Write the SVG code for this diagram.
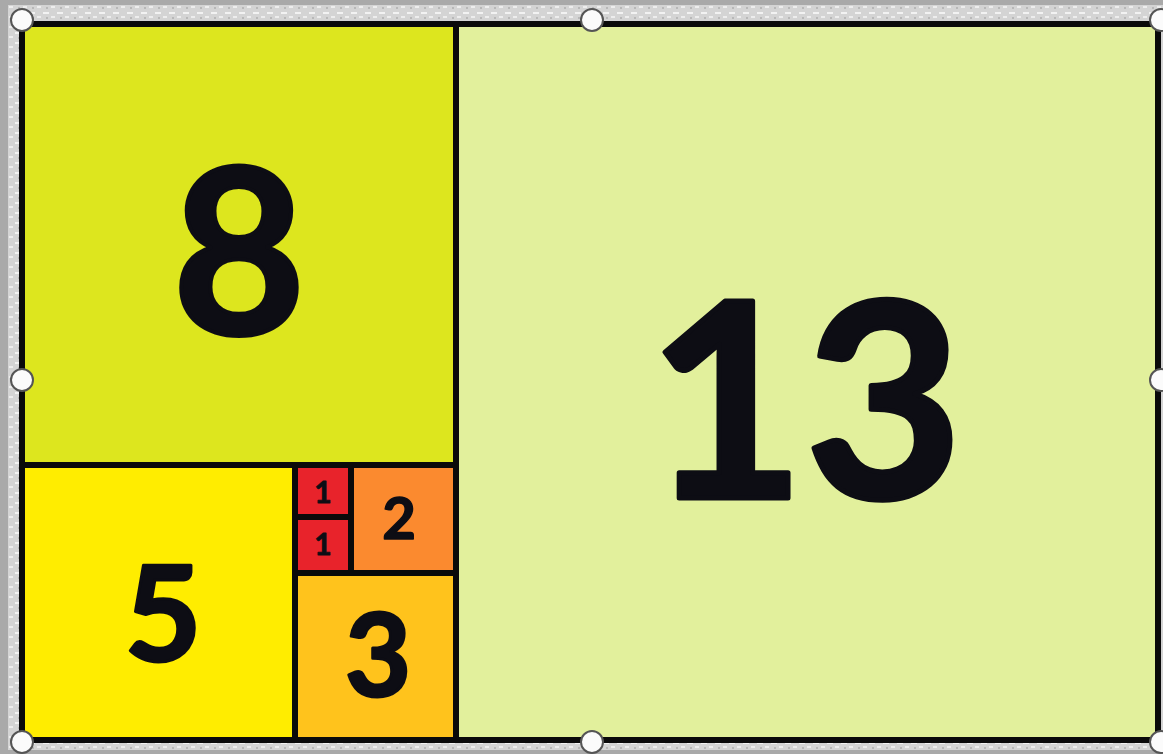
<svg xmlns="http://www.w3.org/2000/svg" width="1163" height="754" viewBox="0 0 1163 754">
<defs>
<style>
.box{stroke:#0a0a0a;stroke-width:6}
.num{font-family:Lato,"Open Sans","Liberation Sans",sans-serif;font-weight:bold;fill:#0d0d14;stroke:#0d0d14;stroke-linejoin:round;text-anchor:middle}
.h{fill:#fbfbfb;stroke:#555;stroke-width:2}
</style>
<pattern id="tex" width="14" height="10" patternUnits="userSpaceOnUse">
<rect width="14" height="10" fill="#d4d4d4"/>
<rect x="1" y="2" width="6" height="2" fill="#f2f2f2"/>
<rect x="9" y="6" width="4" height="2" fill="#ededed"/>
<rect x="4" y="7" width="2" height="2" fill="#b8b8b8"/>
</pattern>
</defs>
<rect width="1163" height="754" fill="#a9a9a9"/>
<rect x="8" y="5" width="1155" height="745" fill="url(#tex)"/>
<g id="sq13"><rect class="box" x="456" y="24" width="702" height="716" fill="#e2f09c"/><text class="num" x="805" y="498" font-size="272" stroke-width="5">13</text></g>
<g id="sq8"><rect class="box" x="22" y="24" width="434" height="441" fill="#dde61e"/><text class="num" x="239" y="334" font-size="230" stroke-width="4">8</text></g>
<g id="sq5"><rect class="box" x="22" y="465" width="273" height="275" fill="#ffed00"/><text class="num" x="163" y="661" font-size="133" stroke-width="3">5</text></g>
<g id="sq3"><rect class="box" x="295" y="573" width="161" height="167" fill="#ffc31c"/><text class="num" x="378" y="696" font-size="114" stroke-width="3">3</text></g>
<g id="sq2"><rect class="box" x="351" y="465" width="105" height="108" fill="#fb8a2f"/><text class="num" x="399" y="539" font-size="58" stroke-width="1.5">2</text></g>
<g id="sq1a"><rect class="box" x="295" y="465" width="56" height="52" fill="#e8232b"/><text class="num" x="323" y="503" font-size="30" stroke-width="0.8">1</text></g>
<g id="sq1b"><rect class="box" x="295" y="517" width="56" height="56" fill="#e8232b"/><text class="num" x="323" y="555" font-size="30" stroke-width="0.8">1</text></g>
<g id="handles">
<circle class="h" cx="22" cy="20" r="11"/><circle class="h" cx="592" cy="20" r="11"/><circle class="h" cx="1161" cy="20" r="11"/>
<circle class="h" cx="22" cy="380" r="11"/><circle class="h" cx="1161" cy="380" r="11"/>
<circle class="h" cx="22" cy="742" r="11"/><circle class="h" cx="592" cy="742" r="11"/><circle class="h" cx="1161" cy="742" r="11"/>
</g>
</svg>
